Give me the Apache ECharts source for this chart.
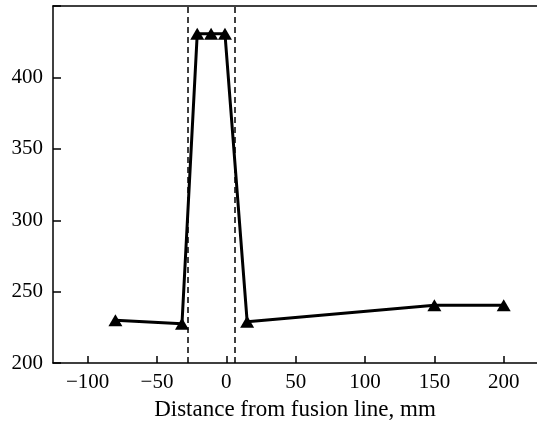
<!DOCTYPE html>
<html>
<head>
<meta charset="utf-8">
<script src="https://cdn.jsdelivr.net/npm/echarts@6/dist/echarts.min.js"></script>
<style>
  html, body { margin: 0; padding: 0; background: #fff; }
  #chart { width: 537px; height: 426px; }
</style>
</head>
<body>
<div id="chart"></div>
<script>
'use strict';

// distance from fusion line (mm) and measured value
const distances = [-80, -32, -21, -11, -1, 15, 150, 200];
const values = [230, 227.5, 430.5, 430.5, 430.5, 229, 240.5, 240.5];
// dashed boundaries of the weld zone
const zoneEdges = [-27.5, 6];

const xTickValues = [-100, -50, 0, 50, 100, 150, 200];
const yTicks = { min: 200, max: 450, interval: 50 };
const xRange = { min: -125, max: 224 };

const font = '"Liberation Serif", "DejaVu Serif", serif';
const minus = (v) => String(v).replace('-', '\u2212');

const chart = echarts.init(document.getElementById('chart'));

chart.setOption({
    animation: false,
    grid: { left: 53, right: 0, top: 6, bottom: 59 },
    xAxis: [
        {
            type: 'value',
            min: xRange.min,
            max: xRange.max,
            name: 'Distance from fusion line, mm',
            nameLocation: 'middle',
            nameGap: 31,
            nameTextStyle: { fontFamily: font, fontSize: 23, color: '#000' },
            axisLine: { onZero: false, lineStyle: { color: '#000', width: 1.5 } },
            axisTick: {
                inside: true, length: 7, customValues: xTickValues,
                lineStyle: { color: '#000', width: 1.5 }
            },
            axisLabel: {
                margin: 9,
                customValues: xTickValues,
                fontFamily: font, fontSize: 21, color: '#000',
                formatter: minus
            },
            splitLine: { show: false }
        },
        {
            type: 'value',
            position: 'top',
            min: xRange.min,
            max: xRange.max,
            axisLine: { onZero: false, lineStyle: { color: '#000', width: 1.5 } },
            axisTick: { show: false },
            axisLabel: { show: false },
            splitLine: { show: false }
        }
    ],
    yAxis: {
        type: 'value',
        min: yTicks.min,
        max: yTicks.max,
        interval: yTicks.interval,
        axisLine: { show: true, onZero: false, lineStyle: { color: '#000', width: 1.5 } },
        axisTick: { show: true, inside: true, length: 8, lineStyle: { color: '#000', width: 1.5 } },
        axisLabel: {
            margin: 10,
            fontFamily: font, fontSize: 21, color: '#000',
            formatter: (v) => (v >= 450 ? '' : String(v))
        },
        splitLine: { show: false }
    },
    series: [{
        type: 'line',
        data: distances.map((d, i) => [d, values[i]]),
        symbol: 'triangle',
        symbolSize: [14, 12],
        itemStyle: { color: '#000' },
        lineStyle: { color: '#000', width: 3 },
        markLine: {
            silent: true,
            symbol: 'none',
            label: { show: false },
            lineStyle: { color: '#000', type: [6, 4], width: 1.5 },
            data: zoneEdges.map((x) => ({ xAxis: x }))
        }
    }]
});
</script>
</body>
</html>
